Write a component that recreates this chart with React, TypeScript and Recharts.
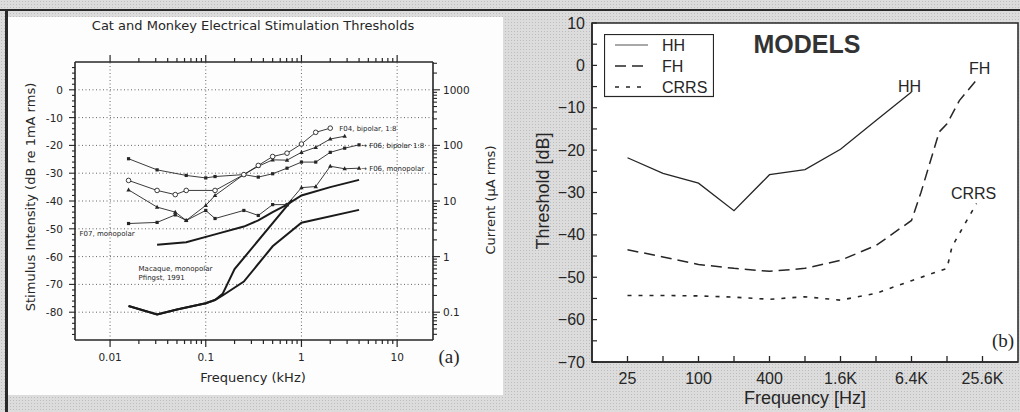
import React from "react";
import { LineChart, Line, XAxis, YAxis, ReferenceLine, ReferenceArea, LabelList, Legend } from "recharts";

// ---------------- Panel (a): frequency in kHz, level in dB re 1 mA rms ----------------
const f06BipFreq = [0.0156, 0.031, 0.0625, 0.1, 0.125, 0.25, 0.354, 0.5, 0.707, 1, 1.41, 2, 2.83, 4];
const f06BipDb = [-24.8, -28.8, -30.8, -31.7, -31.2, -30.5, -31.4, -30.2, -28.2, -26, -26, -22.5, -21, -19.8];

const f04BipFreq = [0.0156, 0.031, 0.048, 0.0625, 0.125, 0.25, 0.354, 0.5, 0.707, 1, 1.41, 2];
const f04BipDb = [-32.6, -36.2, -37.7, -36.2, -36.2, -30.5, -27.2, -24, -22.8, -19.5, -15.3, -13.8];

const triFreq = [0.0156, 0.031, 0.048, 0.0625, 0.1, 0.125, 0.25, 0.354, 0.5, 0.707, 1, 1.41, 2, 2.83];
const triDb = [-36, -42.2, -44, -47, -41.6, -38, -30.5, -27.5, -25.2, -25.3, -22.5, -20.7, -17.7, -16.7];

const f07MonoFreq = [0.0156, 0.031, 0.048, 0.0625, 0.1, 0.125, 0.25, 0.354, 0.5, 0.707];
const f07MonoDb = [-48.1, -47.7, -45, -47, -43.4, -46.3, -43.4, -45.2, -41.3, -41.3];

const f06MonoFreq = [0.707, 1, 1.41, 2, 2.83, 4];
const f06MonoDb = [-41.3, -35.2, -34.8, -27.5, -28.4, -28.2];

const catThickFreq = [0.031, 0.0625, 0.125, 0.25, 0.354, 0.5, 0.707, 1, 2, 4];
const catThickDb = [-55.7, -54.8, -52, -49.2, -47, -44, -41.3, -38, -35, -32.4];

const macaqueAFreq = [0.0156, 0.031, 0.05, 0.1, 0.125, 0.15, 0.2, 0.8];
const macaqueADb = [-77.8, -80.8, -79, -76.8, -75.6, -73.4, -64.5, -39.5];

const macaqueBFreq = [0.0156, 0.031, 0.05, 0.1, 0.125, 0.15, 0.25, 0.5, 1, 4];
const macaqueBDb = [-77.8, -80.8, -79, -76.8, -75.6, -74, -69, -56.3, -47.8, -43.2];

const aFreqTicks = [0.01, 0.02, 0.03, 0.04, 0.05, 0.06, 0.07, 0.08, 0.09, 0.1, 0.2, 0.3, 0.4, 0.5, 0.6, 0.7, 0.8, 0.9, 1, 2, 3, 4, 5, 6, 7, 8, 9, 10];
const aFreqMajor = [0.01, 0.1, 1, 10];
const aFreqLabels = ["0.01", "0.1", "1", "10"];
const aDbTicks = [8, 6, 4, 2, 0, -2, -4, -6, -8, -10, -12, -14, -16, -18, -20, -22, -24, -26, -28, -30, -32, -34, -36, -38, -40, -42, -44, -46, -48, -50, -52, -54, -56, -58, -60, -62, -64, -66, -68, -70, -72, -74, -76, -78, -80, -82, -84, -86, -88];
const aDbMajor = [0, -10, -20, -30, -40, -50, -60, -70, -80];
const aDbLabels = ["0", "-10", "-20", "-30", "-40", "-50", "-60", "-70", "-80"];
const aCurTicks = [0.04, 0.05, 0.06, 0.07, 0.08, 0.09, 0.1, 0.2, 0.3, 0.4, 0.5, 0.6, 0.7, 0.8, 0.9, 1, 2, 3, 4, 5, 6, 7, 8, 9, 10, 20, 30, 40, 50, 60, 70, 80, 90, 100, 200, 300, 400, 500, 600, 700, 800, 900, 1000, 2000, 3000];
const aCurMajor = [0.1, 1, 10, 100, 1000];
const aCurLabels = ["0.1", "1", "10", "100", "1000"];
const aGridX = [0.01, 0.1, 1, 10];
const aGridY = [0, -10, -20, -30, -40, -50, -60, -70, -80];

// ---------------- Panel (b): frequency in Hz, threshold in dB ----------------
const hhFreq = [25, 50, 100, 200, 400, 800, 1600, 3200, 6400];
const hhDb = [-21.8, -25.5, -27.8, -34.3, -25.8, -24.6, -19.8, -13, -6.3];

const fhFreq = [25, 50, 100, 200, 400, 800, 1600, 3200, 6400, 7700, 11000, 12800, 16300, 23300];
const fhDb = [-43.5, -45.2, -47, -47.9, -48.6, -47.9, -46, -42.5, -36.6, -30, -15.7, -13.8, -8.3, -3.1];

const crrsFreq = [25, 50, 100, 200, 400, 800, 1600, 3200, 6400, 12800, 14100, 18500, 22800];
const crrsDb = [-54.3, -54.3, -54.4, -54.7, -55.2, -54.6, -55.4, -53.8, -50.8, -47.9, -42.8, -37, -32.6];

const bFreqTicks = [25, 50, 100, 200, 400, 800, 1600, 3200, 6400, 12800, 25600];
const bFreqMajor = [25, 100, 400, 1600, 6400, 25600];
const bFreqLabels = ["25", "100", "400", "1.6K", "6.4K", "25.6K"];
const bDbTicks = [10, 5, 0, -5, -10, -15, -20, -25, -30, -35, -40, -45, -50, -55, -60, -65, -70];
const bDbMajor = [10, 0, -10, -20, -30, -40, -50, -60, -70];
const bDbLabels = ["10", "0", "\u221210", "\u221220", "\u221230", "\u221240", "\u221250", "\u221260", "\u221270"];
const legendNames = ["HH", "FH", "CRRS"];
const legendDashes = ["0", "11 6", "4 7"];

const INK = "#262626";
const pairs = (fs: number[], vs: number[]) => fs.map((f, i) => ({ f, v: vs[i] }));

type TickCfg = {
  side: "bottom" | "top" | "left" | "right";
  majors: number[];
  labels?: string[];
  majorLen: number;
  minorLen: number;
  outward: boolean;
  gap: number;
  font: string;
  size: number;
  width: number;
};

function axisTick(cfg: TickCfg) {
  return function TickMark(props: any) {
    const { x, y, payload } = props;
    const v = Number(payload?.value);
    const i = cfg.majors.findIndex((m) => Math.abs(m - v) <= Math.abs(m) * 1e-6 + 1e-9);
    const major = i >= 0;
    const len = major ? cfg.majorLen : cfg.minorLen;
    const s = cfg.outward ? 1 : -1;
    let x2 = x, y2 = y, lx = x, ly = y;
    let anchor: any = "middle";
    if (cfg.side === "bottom") { y2 = y + s * len; ly = y + cfg.gap; }
    else if (cfg.side === "top") { y2 = y - s * len; ly = y - cfg.gap; }
    else if (cfg.side === "left") { x2 = x - s * len; lx = x - cfg.gap; anchor = "end"; }
    else { x2 = x + s * len; lx = x + cfg.gap; anchor = "start"; }
    const label = major && cfg.labels ? cfg.labels[i] : null;
    return (
      <g>
        {len > 0 && <line x1={x} y1={y} x2={x2} y2={y2} stroke={INK} strokeWidth={cfg.width} />}
        {label != null && (
          <text x={lx} y={ly} textAnchor={anchor} dominantBaseline="central" fontFamily={cfg.font} fontSize={cfg.size} fill={INK}>
            {label}
          </text>
        )}
      </g>
    );
  };
}

const FONT_A = "DejaVu Sans";
const FONT_B = "Liberation Sans, Arial";
const SERIF = "Liberation Serif, DejaVu Serif, serif";

function dotShape(kind: "circle" | "square" | "tri") {
  return (p: any) => {
    const { cx, cy, index } = p;
    if (cx == null || cy == null) return <g key={`d${index}`} />;
    if (kind === "circle") return <circle key={`d${index}`} cx={cx} cy={cy} r={2.3} fill="#fff" stroke={INK} strokeWidth={0.9} />;
    if (kind === "square") return <rect key={`d${index}`} x={cx - 1.6} y={cy - 1.6} width={3.2} height={3.2} fill={INK} />;
    return <path key={`d${index}`} d={`M${cx},${cy - 2.4}L${cx + 2.2},${cy + 1.6}L${cx - 2.2},${cy + 1.6}Z`} fill={INK} />;
  };
}

function pointLabel(target: number, lines: string[], dx: number, dy: number, size: number, font: string, anchor: string = "start", lineGap = 9) {
  return (p: any) => {
    if (p.index !== target || p.x == null) return null;
    return (
      <text x={Number(p.x) + dx} y={Number(p.y) + dy} textAnchor={anchor as any} fontFamily={font} fontSize={size} fill={INK}>
        {lines.map((t, k) => (
          <tspan key={k} x={Number(p.x) + dx} dy={k === 0 ? 0 : lineGap}>{t}</tspan>
        ))}
      </text>
    );
  };
}

function PanelA() {
  const thin = { stroke: INK, strokeWidth: 0.9, isAnimationActive: false, xAxisId: "bx", yAxisId: "db", dataKey: "v", type: "linear" as const };
  const thick = { stroke: "#1a1a1a", strokeWidth: 2, isAnimationActive: false, xAxisId: "bx", yAxisId: "db", dataKey: "v", type: "linear" as const, dot: false };
  const common = { tickSize: 0, tickMargin: 0, tickLine: false, interval: 0 as const, axisLine: { stroke: INK, strokeWidth: 1.6 } };
  return (
    <LineChart width={510} height={412} margin={{ top: 61, right: 76, bottom: 71, left: 74 }}>
      <XAxis xAxisId="bx" type="number" dataKey="f" scale="log" domain={[0.0043, 23.7]} allowDataOverflow ticks={aFreqTicks} height={1}
        tick={axisTick({ side: "bottom", majors: aFreqMajor, labels: aFreqLabels, majorLen: 7, minorLen: 4, outward: true, gap: 17, font: FONT_A, size: 10.5, width: 1.2 })} {...common} />
      <XAxis xAxisId="tx" orientation="top" type="number" dataKey="f" scale="log" domain={[0.0043, 23.7]} allowDataOverflow ticks={aFreqTicks} height={1}
        tick={axisTick({ side: "top", majors: aFreqMajor, majorLen: 7, minorLen: 4, outward: true, gap: 0, font: FONT_A, size: 10, width: 1.2 })} {...common} />
      <YAxis yAxisId="db" type="number" domain={[-90, 10]} allowDataOverflow ticks={aDbTicks} width={1}
        tick={axisTick({ side: "left", majors: aDbMajor, labels: aDbLabels, majorLen: 6, minorLen: 3, outward: true, gap: 12, font: FONT_A, size: 10.5, width: 1.1 })} {...common} />
      <YAxis yAxisId="cur" orientation="right" type="number" scale="log" domain={[0.0316228, 3162.28]} allowDataOverflow ticks={aCurTicks} width={1}
        tick={axisTick({ side: "right", majors: aCurMajor, labels: aCurLabels, majorLen: 7, minorLen: 4, outward: true, gap: 10, font: FONT_A, size: 10.5, width: 1.1 })} {...common} />
      {aGridX.map((g) => (
        <ReferenceLine key={`gx${g}`} xAxisId="bx" yAxisId="db" x={g} stroke="#555" strokeWidth={0.9} strokeDasharray="1 2.5" />
      ))}
      {aGridY.map((g) => (
        <ReferenceLine key={`gy${g}`} xAxisId="bx" yAxisId="db" y={g} stroke="#555" strokeWidth={0.9} strokeDasharray="1 2.5" />
      ))}
      <Line {...thick} data={pairs(catThickFreq, catThickDb)} />
      <Line {...thick} data={pairs(macaqueAFreq, macaqueADb)} />
      <Line {...thick} data={pairs(macaqueBFreq, macaqueBDb)}>
        <LabelList dataKey="v" content={pointLabel(0, ["Macaque, monopolar", "Pfingst, 1991"], 10, -35, 7, FONT_A, "start", 9)} />
      </Line>
      <Line {...thin} data={pairs(f07MonoFreq, f07MonoDb)} dot={dotShape("square")}>
        <LabelList dataKey="v" content={pointLabel(0, ["F07, monopolar"], -49, 12, 7, FONT_A)} />
      </Line>
      <Line {...thin} data={pairs(f06MonoFreq, f06MonoDb)} dot={dotShape("tri")}>
        <LabelList dataKey="v" content={pointLabel(f06MonoFreq.length - 1, ["\u2192 F06, monopolar"], 2, 2.5, 7, FONT_A)} />
      </Line>
      <Line {...thin} data={pairs(triFreq, triDb)} dot={dotShape("tri")} />
      <Line {...thin} data={pairs(f06BipFreq, f06BipDb)} dot={dotShape("square")}>
        <LabelList dataKey="v" content={pointLabel(f06BipFreq.length - 1, ["\u2192 F06, bipolar 1:8"], 2, 3, 7, FONT_A)} />
      </Line>
      <Line {...thin} data={pairs(f04BipFreq, f04BipDb)} dot={dotShape("circle")}>
        <LabelList dataKey="v" content={pointLabel(f04BipFreq.length - 1, ["F04, bipolar, 1:8"], 9, 2.5, 7, FONT_A)} />
      </Line>
    </LineChart>
  );
}

function LegendBox() {
  return (
    <svg width={110} height={64} style={{ display: "block" }}>
      <rect x={0.5} y={0.5} width={109} height={62} fill="#fff" stroke={INK} strokeWidth={1.2} />
      {legendNames.map((n, i) => (
        <g key={n}>
          <line x1={11} x2={44} y1={11 + i * 21} y2={11 + i * 21} stroke={INK} strokeWidth={i === 0 ? 0.8 : 1.4} strokeDasharray={legendDashes[i]} />
          <text x={58} y={11 + i * 21} dominantBaseline="central" fontFamily={FONT_B} fontSize={16} fill={INK}>{n}</text>
        </g>
      ))}
    </svg>
  );
}

function PanelB() {
  const common = { tickSize: 0, tickMargin: 0, tickLine: false, interval: 0 as const, axisLine: { stroke: INK, strokeWidth: 1.5 } };
  const base = { stroke: INK, isAnimationActive: false, dataKey: "v", type: "linear" as const, dot: false };
  return (
    <LineChart width={510} height={412} margin={{ top: 23, right: 2, bottom: 49, left: 81 }}>
      <XAxis type="number" dataKey="f" scale="log" domain={[12.5, 51200]} allowDataOverflow ticks={bFreqTicks} height={1}
        tick={axisTick({ side: "bottom", majors: bFreqMajor, labels: bFreqLabels, majorLen: 6, minorLen: 6, outward: false, gap: 16, font: FONT_B, size: 16, width: 1.3 })} {...common} />
      <YAxis type="number" domain={[-70, 10]} allowDataOverflow ticks={bDbTicks} width={1}
        tick={axisTick({ side: "left", majors: bDbMajor, labels: bDbLabels, majorLen: 5, minorLen: 5, outward: false, gap: 7, font: FONT_B, size: 16, width: 1.2 })} {...common} />
      <ReferenceArea x1={12.5} x2={51200} y1={-70} y2={10} fill="none" stroke={INK} strokeWidth={1.5} />
      <Legend layout="horizontal" verticalAlign="middle" align="center" content={() => <LegendBox />}
        wrapperStyle={{ position: "absolute", left: 94, top: 34, width: 110, height: 64 }} />
      <Line {...base} name="HH" strokeWidth={1.3} data={pairs(hhFreq, hhDb)}>
        <LabelList dataKey="v" content={pointLabel(hhFreq.length - 1, ["HH"], -2, 0, 16, FONT_B, "middle")} />
      </Line>
      <Line {...base} name="FH" strokeWidth={1.5} strokeDasharray="11 6" data={pairs(fhFreq, fhDb)}>
        <LabelList dataKey="v" content={pointLabel(fhFreq.length - 1, ["FH"], 2, -5, 16, FONT_B, "middle")} />
      </Line>
      <Line {...base} name="CRRS" strokeWidth={1.6} strokeDasharray="4 7" data={pairs(crrsFreq, crrsDb)}>
        <LabelList dataKey="v" content={pointLabel(crrsFreq.length - 1, ["CRRS"], -3, -5, 16, FONT_B, "middle")} />
      </Line>
    </LineChart>
  );
}

export default function App() {
  return (
    <div style={{
      position: "absolute", left: 0, top: 0, width: 1020, height: 412, overflow: "hidden",
      backgroundColor: "#dcdcdc",
      backgroundImage: "radial-gradient(#bdbdbd 0.7px, transparent 0.8px)",
      backgroundSize: "3px 3px",
    }}>
      <div style={{ position: "absolute", left: 0, top: 9, width: 1020, height: 2, background: "#2a2a2a" }} />
      <div style={{ position: "absolute", left: 5, top: 9, width: 3, height: 403, background: "#2a2a2a" }} />
      <div style={{ position: "absolute", left: 8, top: 17, width: 495, height: 378, background: "#fdfdfd" }} />
      <div style={{ position: "absolute", left: 592, top: 23, width: 426, height: 339, background: "#fff" }} />
      <div style={{ position: "absolute", left: 0, top: 0 }}>
        <PanelA />
      </div>
      <div style={{ position: "absolute", left: 510, top: 0 }}>
        <PanelB />
      </div>
      <svg width={1020} height={412} style={{ position: "absolute", left: 0, top: 0, pointerEvents: "none" }}>
        <text x={253} y={30} textAnchor="middle" fontFamily={FONT_A} fontSize={13} fill={INK}>Cat and Monkey Electrical Stimulation Thresholds</text>
        <text x={30} y={197} transform="rotate(-90 30 197)" textAnchor="middle" dominantBaseline="central" fontFamily={FONT_A} fontSize={13} fill={INK}>Stimulus Intensity (dB re 1mA rms)</text>
        <text x={490} y={200} transform="rotate(-90 490 200)" textAnchor="middle" dominantBaseline="central" fontFamily={FONT_A} fontSize={13} fill={INK}>Current (µA rms)</text>
        <text x={253} y={377} textAnchor="middle" dominantBaseline="central" fontFamily={FONT_A} fontSize={13} fill={INK}>Frequency (kHz)</text>
        <text x={449} y={363} textAnchor="middle" fontFamily={SERIF} fontSize={19} fill={INK}>(a)</text>
        <text x={807} y={53} textAnchor="middle" fontFamily={FONT_B} fontWeight="bold" fontSize={25} fill="#333">MODELS</text>
        <text x={543} y={191} transform="rotate(-90 543 191)" textAnchor="middle" dominantBaseline="central" fontFamily={FONT_B} fontSize={18} fill={INK}>Threshold [dB]</text>
        <text x={805} y={398} textAnchor="middle" dominantBaseline="central" fontFamily={FONT_B} fontSize={18} fill={INK}>Frequency [Hz]</text>
        <text x={1003} y={347} textAnchor="middle" fontFamily={SERIF} fontSize={19} fill={INK}>(b)</text>
      </svg>
    </div>
  );
}
